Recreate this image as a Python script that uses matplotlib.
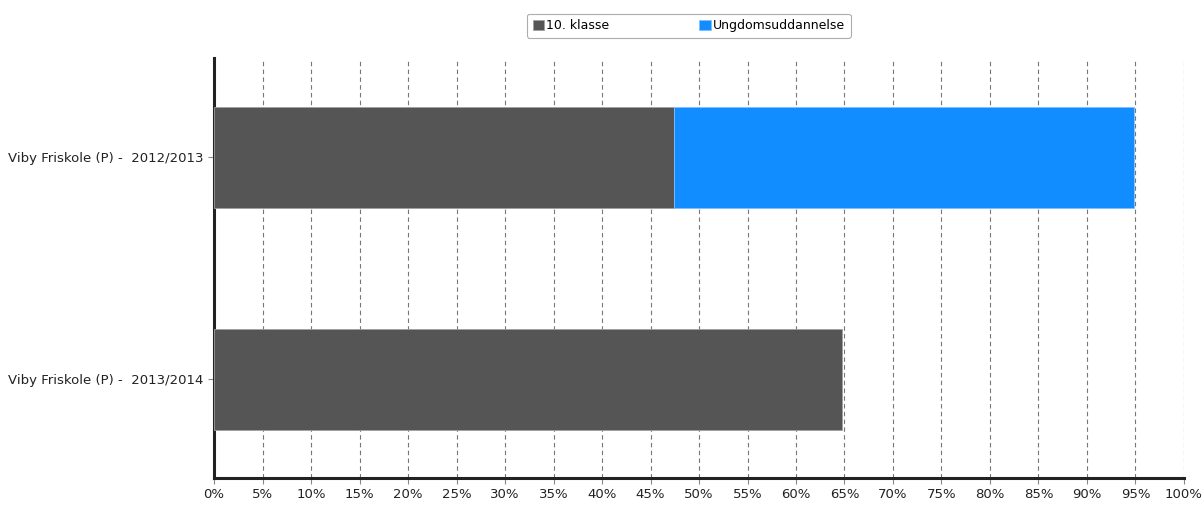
#!/usr/bin/env python3
import matplotlib
matplotlib.use("Agg")
import matplotlib.pyplot as plt
from matplotlib.ticker import FuncFormatter, MultipleLocator

categories = ["Viby Friskole (P) -  2012/2013", "Viby Friskole (P) -  2013/2014"]
klasse10 = [47.4, 64.7]
ungdom = [47.4, 0.0]
series_names = ["10. klasse", "Ungdomsuddannelse"]

GRAY = "#555555"
BLUE = "#118dff"

plt.rcParams["font.family"] = ["DejaVu Sans"]

fig = plt.figure(figsize=(12.03, 5.07), dpi=100)
ax = fig.add_axes([0.1779, 0.0572, 0.8063, 0.8284])

y = list(range(len(categories)))
ax.barh(y, klasse10, height=0.455, color=GRAY, edgecolor="#a0a0a0", linewidth=0.6,
        label=series_names[0], zorder=3)
bars = ax.barh(y, ungdom, left=klasse10, height=0.455, color=BLUE, edgecolor="#7fc0ff",
               linewidth=0.6, label=series_names[1], zorder=3)
for b, v in zip(bars, ungdom):
    if v == 0:
        b.set_visible(False)

ax.set_xlim(0, 100)
ax.set_ylim(1.445, -0.448)
ax.set_yticks(y)
ax.set_yticklabels(categories, fontsize=9.5, color="#222222")
ax.xaxis.set_major_locator(MultipleLocator(5))
ax.xaxis.set_major_formatter(FuncFormatter(lambda v, p: f"{v:.0f}%"))
ax.tick_params(axis="x", labelsize=9.5, colors="#222222", length=4, width=0.8, color="#888888")
ax.tick_params(axis="y", length=4, width=0.8, color="#888888")

ax.grid(axis="x", color="#777777", linestyle=(0, (4, 3)), linewidth=0.8, zorder=0)
ax.grid(axis="y", visible=False)
ax.get_xgridlines()[-1].set_visible(False)
for side in ["top", "right"]:
    ax.spines[side].set_visible(False)
for side in ["left", "bottom"]:
    ax.spines[side].set_color("#222222")
    ax.spines[side].set_linewidth(2.2)

leg = fig.legend(loc="center", bbox_to_anchor=(0.5727, 0.949), ncol=2, fontsize=9,
                 frameon=True, fancybox=True, edgecolor="#999999", handlelength=0.9,
                 handleheight=0.9, handletextpad=0.2, columnspacing=7.2,
                 borderpad=0.45)
leg.get_frame().set_linewidth(0.8)

fig.savefig("out.png", dpi=100)
